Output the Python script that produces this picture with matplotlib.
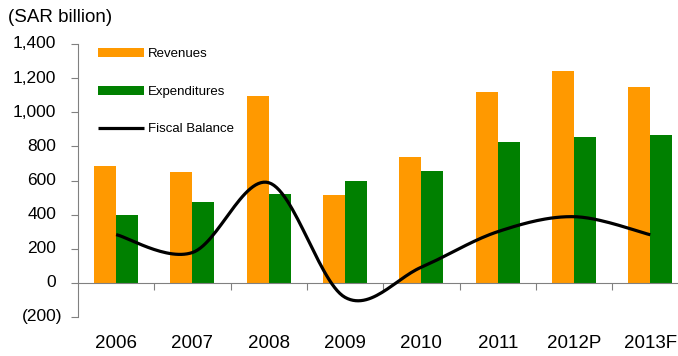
import numpy as np
import matplotlib
matplotlib.use('Agg')
import matplotlib.pyplot as plt
from matplotlib.transforms import blended_transform_factory, offset_copy

plt.rcParams['font.family'] = ['Liberation Sans', 'DejaVu Sans']

# data (SAR billion)
years = ['2006', '2007', '2008', '2009', '2010', '2011', '2012P', '2013F']
revenues = [683, 652, 1097, 517, 739, 1117, 1240, 1148]
expenditures = [400, 472, 523, 599, 656, 825, 853, 864]
balance = [283, 178, 587, -85, 92, 300, 388, 282]
yticks = [-200, 0, 200, 400, 600, 800, 1000, 1200, 1400]
ylabels = ['(200)', '0', '200', '400', '600', '800', '1,000', '1,200', '1,400']

orange = '#FF9900'
green = '#008000'


def smooth(xs, ys, n=30):
    # excel style smoothed line (catmull-rom bezier)
    xs = np.asarray(xs, float)
    ys = np.asarray(ys, float)
    px = np.concatenate([[xs[0]], xs, [xs[-1]]])
    py = np.concatenate([[ys[0]], ys, [ys[-1]]])
    out_x, out_y = [], []
    t = np.linspace(0, 1, n)
    for i in range(1, len(px) - 2):
        p0 = np.array([px[i], py[i]])
        p3 = np.array([px[i + 1], py[i + 1]])
        c1 = p0 + (np.array([px[i + 1], py[i + 1]]) - np.array([px[i - 1], py[i - 1]])) / 6
        c2 = p3 - (np.array([px[i + 2], py[i + 2]]) - np.array([px[i], py[i]])) / 6
        b = ((1 - t) ** 3)[:, None] * p0 + (3 * (1 - t) ** 2 * t)[:, None] * c1 \
            + (3 * (1 - t) * t ** 2)[:, None] * c2 + (t ** 3)[:, None] * p3
        out_x.extend(b[:, 0])
        out_y.extend(b[:, 1])
    return out_x, out_y


fig = plt.figure(figsize=(6.78, 3.56), dpi=100)
ax = fig.add_axes([78 / 678, 1 - 317 / 356, (688.5 - 78) / 678, (317 - 44) / 356])

x = np.arange(len(years))
w = 0.288
b1 = ax.bar(x - w / 2, revenues, w, color=orange, label='Revenues', zorder=2)
b2 = ax.bar(x + w / 2, expenditures, w, color=green, label='Expenditures', zorder=2)
sx, sy = smooth(x, balance)
l1, = ax.plot(sx, sy, color='black', lw=2.3, solid_capstyle='butt', label='Fiscal Balance', zorder=3)

ax.set_xlim(-0.5, len(years) - 0.5)
ax.set_ylim(-200, 1400)
ax.set_yticks(yticks)
ax.set_yticklabels([])
ax.tick_params(axis='y', direction='out', length=5, color='#808080')

# y labels: excel accounting format, positives leave room for ")"
ytrans = blended_transform_factory(ax.transAxes, ax.transData)
for v, lab in zip(yticks, ylabels):
    dx = -22 if v >= 0 else -16
    ax.text(0, v, lab, transform=offset_copy(ytrans, fig=fig, x=dx, units='dots'),
            ha='right', va='center', fontsize=12.5)

for s in ['top', 'right']:
    ax.spines[s].set_visible(False)
ax.spines['left'].set_color('#808080')
ax.spines['bottom'].set_position(('data', 0))
ax.spines['bottom'].set_color('#808080')
ax.set_xticks(np.arange(0.5, len(years) - 0.5, 1))
ax.set_xticklabels([])
ax.tick_params(axis='x', direction='out', length=5, color='#808080')

trans = blended_transform_factory(ax.transData, ax.transAxes)
for i, yr in enumerate(years):
    ax.text(i, -(343 - 317) / 273, yr, transform=trans, ha='center', va='center', fontsize=13.5)

fig.text(8 / 678, 1 - 18 / 356, '(SAR billion)', ha='left', va='center', fontsize=13.5)

leg = ax.legend([b1, b2, l1], ['Revenues', 'Expenditures', 'Fiscal Balance'],
                loc='upper left', bbox_to_anchor=(20 / 610.5, 0.985), frameon=False,
                fontsize=9.5, handlelength=3.5, handleheight=0.7, handletextpad=0.3,
                labelspacing=1.92, borderpad=0, borderaxespad=0)

fig.savefig('out.png', dpi=100)
